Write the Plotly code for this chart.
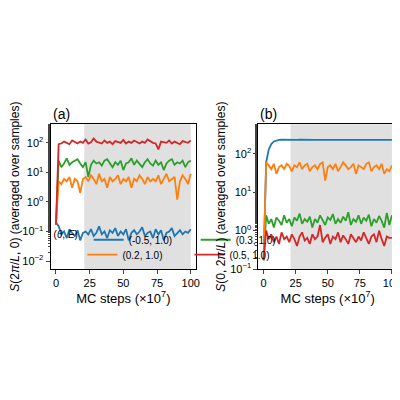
import plotly.graph_objects as go

# --- data (x in units of 1e7 MC steps) ---
labels = ["(-0.5, 1.0)", "(0.3, 1.0)", "(0.2, 1.0)", "(0.5, 1.0)"]
colors = ["#1f77b4", "#2ca02c", "#ff7f0e", "#d62728"]
legend_ids = ["legend", "legend", "legend2", "legend2"]

a_blue = [0.2, 0.15, 0.08, 0.1, 0.06, 0.12, 0.09, 0.07, 0.11, 0.05, 0.09, 0.1, 0.08, 0.12, 0.07, 0.09, 0.15, 0.08, 0.1, 0.06, 0.11, 0.09, 0.13, 0.07, 0.1, 0.08, 0.12, 0.05, 0.09, 0.11, 0.08, 0.1, 0.14, 0.07, 0.09, 0.1, 0.06, 0.12, 0.08, 0.11, 0.05, 0.09, 0.1, 0.13, 0.07, 0.09, 0.11, 0.08, 0.1, 0.09, 0.12]
a_green = [0.17, 25, 15, 20, 30, 18, 22, 25, 28, 20, 15, 22, 7, 18, 25, 20, 22, 17, 25, 28, 20, 15, 22, 18, 25, 12, 20, 22, 30, 18, 25, 20, 15, 22, 28, 20, 17, 25, 18, 22, 12, 20, 25, 28, 18, 22, 20, 25, 15, 22, 25]
a_orange = [0.17, 5, 4, 6, 5, 7, 3, 6, 5, 2, 6, 7, 5, 8, 6, 4, 9, 5, 6, 3, 7, 5, 6, 8, 4, 6, 5, 7, 3, 6, 5, 8, 6, 4, 7, 5, 6, 5, 8, 4, 6, 9, 5, 6, 7, 1.2, 5, 8, 6, 4, 9]
a_red = [0.17, 90, 95, 110, 100, 90, 120, 105, 95, 110, 100, 130, 95, 105, 140, 110, 100, 95, 120, 100, 110, 90, 115, 105, 100, 125, 95, 110, 100, 120, 105, 95, 110, 100, 130, 115, 100, 95, 60, 110, 105, 100, 120, 95, 110, 100, 90, 115, 105, 100, 120]

b_blue = [0.17, 60, 130, 180, 210, 225, 230, 232, 230, 228, 230, 231, 229, 230, 232, 230, 229, 231, 230, 228, 230, 231, 230, 229, 230, 232, 230, 229, 231, 230, 230, 228, 230, 231, 230, 229, 230, 231, 230, 229, 230, 231, 230, 228, 230, 231, 230, 229, 230, 231, 230]
b_orange = [0.17, 60, 50, 40, 55, 30, 45, 50, 40, 55, 48, 35, 50, 45, 60, 40, 50, 55, 35, 45, 50, 40, 55, 60, 20, 45, 50, 40, 55, 35, 45, 60, 50, 40, 45, 55, 30, 50, 45, 40, 55, 60, 35, 45, 50, 40, 55, 30, 40, 35, 50]
b_green = [0.17, 2.5, 1.5, 2, 1.2, 2.2, 1.8, 1.4, 2.5, 1.6, 2, 1.3, 2.2, 1.8, 2.8, 1.5, 2, 1.7, 2.3, 1.2, 2, 1.6, 2.5, 1.8, 1.4, 2.2, 1.9, 2.7, 1.5, 2, 1.6, 2.3, 1.8, 3, 1.4, 2, 1.7, 2.5, 1.5, 2.2, 1.8, 2.6, 1.3, 2, 1.6, 2.4, 1.8, 1.2, 2.9, 1.4, 2.5]
b_red = [0.17, 1.0, 0.6, 0.8, 0.5, 0.7, 0.45, 0.9, 0.6, 0.7, 0.5, 0.8, 0.6, 0.4, 0.7, 0.9, 0.55, 0.65, 0.45, 0.8, 0.6, 0.7, 1.4, 0.5, 0.65, 0.8, 0.45, 0.7, 0.6, 0.9, 0.5, 0.75, 0.6, 0.45, 0.8, 0.65, 0.5, 0.7, 0.55, 0.9, 0.6, 0.45, 0.7, 0.8, 0.5, 1.0, 0.6, 0.4, 0.7, 0.65, 0.65]

shade_start, shade_end = 21, 100

fig = go.Figure()

for series, xa, ya, show in [([a_blue, a_green, a_orange, a_red], "x", "y", True),
                              ([b_blue, b_green, b_orange, b_red], "x2", "y2", False)]:
    for y, name, c, lg in zip(series, labels, colors, legend_ids):
        fig.add_trace(go.Scatter(
            x=[2 * i for i in range(len(y))], y=y, mode="lines", name=name,
            line=dict(color=c, width=1.8), xaxis=xa, yaxis=ya, showlegend=show, legend=lg))

for xr, yr in [("x", "y"), ("x2", "y2")]:
    fig.add_shape(type="rect", xref=xr, yref=yr + " domain", x0=shade_start, x1=shade_end,
                  y0=0, y1=1, fillcolor="#e0e0e0", line_width=0, layer="below")

fam = "Liberation Sans, Arial, sans-serif"
font = dict(family=fam, size=11, color="black")
axis_common = dict(showline=True, linecolor="black", linewidth=1, mirror=True, ticks="outside",
                   ticklen=4, showgrid=False, zeroline=False, tickfont=font)
xticks = dict(range=[-4, 104], tickvals=[0, 25, 50, 75, 100],
              title=dict(text="MC steps (×10<sup>7</sup>)", font=dict(size=13, family=fam), standoff=4))
legend_common = dict(orientation="h", xanchor="left", yanchor="bottom", bgcolor="rgba(0,0,0,0)",
                     font=dict(size=10, family=fam), entrywidth=62, itemwidth=30,
                     tracegroupgap=0, borderwidth=0)

fig.update_layout(
    width=400, height=400, margin=dict(l=0, r=0, t=0, b=0),
    plot_bgcolor="white", paper_bgcolor="white", font=font,
    xaxis=dict(domain=[0.1075, 0.475], anchor="y", **xticks, **axis_common),
    xaxis2=dict(domain=[0.6325, 0.9825], anchor="x2" and "y2", **xticks, **axis_common),
    yaxis=dict(domain=[0.3375, 0.705], anchor="x", type="log", range=[-2.27, 2.63],
               tickvals=[0.01, 0.1, 1, 10, 100],
               ticktext=["10<sup>−2</sup>", "10<sup>−1</sup>", "10<sup>0</sup>", "10<sup>1</sup>", "10<sup>2</sup>"],
               minor=dict(ticks="outside", ticklen=2, showgrid=False),
               title=dict(text="<i>S</i>(2<i>π</i>/<i>L</i>, 0) (averaged over samples)",
                          font=dict(size=12, family=fam), standoff=2),
               **axis_common),
    yaxis2=dict(domain=[0.3375, 0.705], anchor="x2", type="log", range=[-1, 2.77],
                tickvals=[0.1, 1, 10, 100],
                ticktext=["10<sup>−1</sup>", "10<sup>0</sup>", "10<sup>1</sup>", "10<sup>2</sup>"],
                minor=dict(ticks="outside", ticklen=2, showgrid=False),
                title=dict(text="<i>S</i>(0, 2<i>π</i>/<i>L</i>) (averaged over samples)",
                           font=dict(size=12, family=fam), standoff=2),
                **axis_common),
    legend=dict(x=0.11, y=0.375, **legend_common,
                title=dict(text="(<i>θ</i>, <i>E</i>) ", side="left", font=dict(size=10, family=fam))),
    legend2=dict(x=0.188, y=0.337, **legend_common),
    annotations=[
        dict(text="(a)", x=0.1075, y=0.705, xref="paper", yref="paper", xanchor="left",
             yanchor="bottom", showarrow=False, font=dict(size=14, family=fam)),
        dict(text="(b)", x=0.6325, y=0.705, xref="paper", yref="paper", xanchor="left",
             yanchor="bottom", showarrow=False, font=dict(size=14, family=fam)),
    ],
)

fig.write_html("out.html")
